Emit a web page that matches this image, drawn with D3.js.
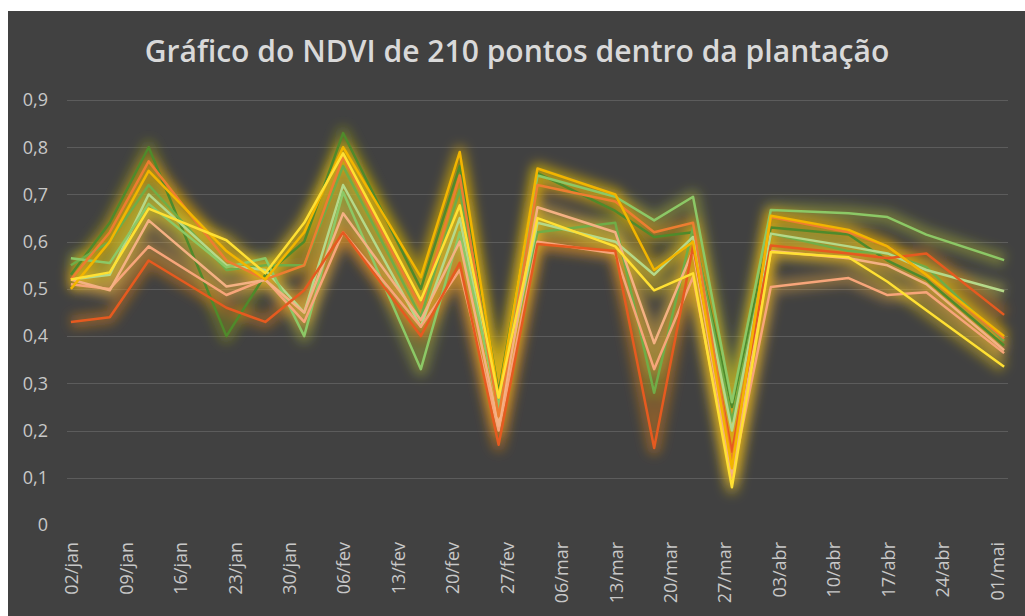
<!DOCTYPE html>
<html><head><meta charset="utf-8">
<script src="https://cdn.jsdelivr.net/npm/d3@7"></script>
<style>
html,body{margin:0;padding:0;background:#fff;}
svg{display:block;}
</style></head>
<body>
<svg id="chart" width="1025" height="616"></svg>
<script>
// ---- data ----
const title = "Gráfico do NDVI de 210 pontos dentro da plantação";
const dates = ["02/jan","07/jan","12/jan","22/jan","27/jan","01/fev","06/fev","16/fev","21/fev","26/fev",
               "03/mar","13/mar","18/mar","23/mar","28/mar","02/abr","12/abr","17/abr","22/abr","02/mai"];
const tickLabels = ["02/jan","09/jan","16/jan","23/jan","30/jan","06/fev","13/fev","20/fev","27/fev",
                    "06/mar","13/mar","20/mar","27/mar","03/abr","10/abr","17/abr","24/abr","01/mai"];
const yTicks = [0,0.1,0.2,0.3,0.4,0.5,0.6,0.7,0.8,0.9];
const seriesNames = ["darkGreen","green","paleGreen","lightGreen","salmon","lightOrange","orangeRed","orange","gold","yellow"];
const seriesColors = ["#4f8a2b","#70ad47","#b5d98a","#8cc866","#f7a57a","#f4b183","#e65a20","#ed7d31","#f2b500","#ffe033"];
const darkGreen   = [0.53,0.64,0.80,0.40,0.53,0.60,0.83,0.50,0.76,0.28,0.745,0.665,0.61,0.62,0.25,0.63,0.615,0.56,0.52,0.38];
const green       = [0.55,0.60,0.72,0.54,0.55,0.55,0.76,0.44,0.71,0.26,0.62,0.64,0.28,0.63,0.22,0.617,0.58,0.575,0.546,0.39];
const paleGreen   = [0.52,0.53,0.70,0.55,0.54,0.45,0.72,0.42,0.65,0.24,0.64,0.60,0.53,0.61,0.20,0.617,0.59,0.575,0.54,0.495];
const lightGreen  = [0.565,0.555,0.68,0.546,0.565,0.40,0.705,0.33,0.62,0.25,0.74,0.695,0.645,0.695,0.26,0.667,0.66,0.652,0.615,0.561];
const salmon      = [0.51,0.50,0.59,0.487,0.52,0.43,0.62,0.42,0.54,0.20,0.60,0.575,0.33,0.525,0.10,0.504,0.523,0.487,0.493,0.364];
const lightOrange = [0.52,0.497,0.645,0.505,0.519,0.45,0.66,0.434,0.60,0.21,0.673,0.62,0.385,0.582,0.11,0.58,0.565,0.55,0.51,0.37];
const orangeRed   = [0.43,0.44,0.56,0.46,0.43,0.497,0.62,0.40,0.555,0.17,0.595,0.58,0.163,0.59,0.155,0.592,0.575,0.565,0.575,0.445];
const orange      = [0.52,0.62,0.77,0.56,0.52,0.55,0.78,0.46,0.74,0.23,0.72,0.685,0.62,0.64,0.13,0.652,0.62,0.59,0.53,0.395];
const gold        = [0.50,0.60,0.75,0.58,0.52,0.62,0.80,0.525,0.79,0.27,0.755,0.70,0.54,0.60,0.12,0.655,0.625,0.59,0.53,0.40];
const yellow      = [0.52,0.535,0.67,0.603,0.533,0.64,0.787,0.476,0.677,0.27,0.65,0.59,0.497,0.533,0.08,0.578,0.567,0.515,0.455,0.335];
const seriesValues = [darkGreen,green,paleGreen,lightGreen,salmon,lightOrange,orangeRed,orange,gold,yellow];

// ---- helpers ----
const months = {jan:0,fev:1,mar:2,abr:3,mai:4};
function parseDM(s){ const [d,m]=s.split("/"); return new Date(2019, months[m], +d, 12); }

const svg = d3.select("#chart");
const W = 1025, H = 616;
svg.append("rect").attr("x",8).attr("y",11).attr("width",W-8).attr("height",H-11).attr("fill","#414141");

const x = d3.scaleTime()
  .domain([new Date(2019,0,2,0), new Date(2019,4,3,0)])
  .range([67, 1008]);
const y = d3.scaleLinear().domain([0,0.9]).range([525, 100]);

// filter for glow
const defs = svg.append("defs");
const f = defs.append("filter").attr("id","glow").attr("x","-10%").attr("y","-10%").attr("width","120%").attr("height","120%");
f.append("feGaussianBlur").attr("stdDeviation",5.5);

// gridlines
svg.append("g").selectAll("line").data(yTicks.filter(v=>v>0)).join("line")
  .attr("x1",67).attr("x2",1008)
  .attr("y1",d=>Math.round(y(d))+0.5).attr("y2",d=>Math.round(y(d))+0.5)
  .attr("stroke","#5c5c5c").attr("stroke-width",1);

// y labels
const fmt = v => d3.format(".1f")(v).replace(".",",");
svg.append("g").selectAll("text").data(yTicks).join("text")
  .attr("x",48).attr("y",d=>y(d)).attr("dy","0.35em")
  .attr("text-anchor","end")
  .attr("font-family","'Open Sans', sans-serif").attr("font-size",18)
  .attr("fill","#c8c8c8")
  .text(d=> d===0 ? "0" : fmt(d));

// x labels
svg.append("g").selectAll("text").data(tickLabels).join("text")
  .attr("transform",d=>`translate(${x(parseDM(d))+1},542) rotate(-90)`)
  .attr("dy","0.35em")
  .attr("text-anchor","end")
  .attr("font-family","'Open Sans', sans-serif").attr("font-size",18)
  .attr("fill","#c8c8c8")
  .text(d=>d);

// lines
const line = d3.line().x((v,i)=>x(parseDM(dates[i]))).y(v=>y(v));
const glowG = svg.append("g").attr("filter","url(#glow)");
seriesValues.forEach((vals,k)=>{
  glowG.append("path").attr("d",line(vals)).attr("fill","none")
    .attr("stroke",d3.interpolateRgb(seriesColors[k],"#c8a400")(0.5))
    .attr("stroke-width",14).attr("stroke-opacity",0.45)
    .attr("stroke-linejoin","round");
});
seriesValues.forEach((vals,k)=>{
  svg.append("path").attr("d",line(vals)).attr("fill","none")
    .attr("stroke",seriesColors[k]).attr("stroke-width",2.5)
    .attr("stroke-linejoin","round").attr("class","series-"+seriesNames[k]);
});

// title
const t = svg.append("text").attr("x",517).attr("y",62).attr("text-anchor","middle")
  .attr("font-family","'Open Sans', sans-serif").attr("font-weight",600).attr("font-size",28)
  .attr("fill","#d9d9d9").text(title);
const tl = t.node().getComputedTextLength();
t.attr("font-size", 28*745/tl);
</script>
</body></html>
